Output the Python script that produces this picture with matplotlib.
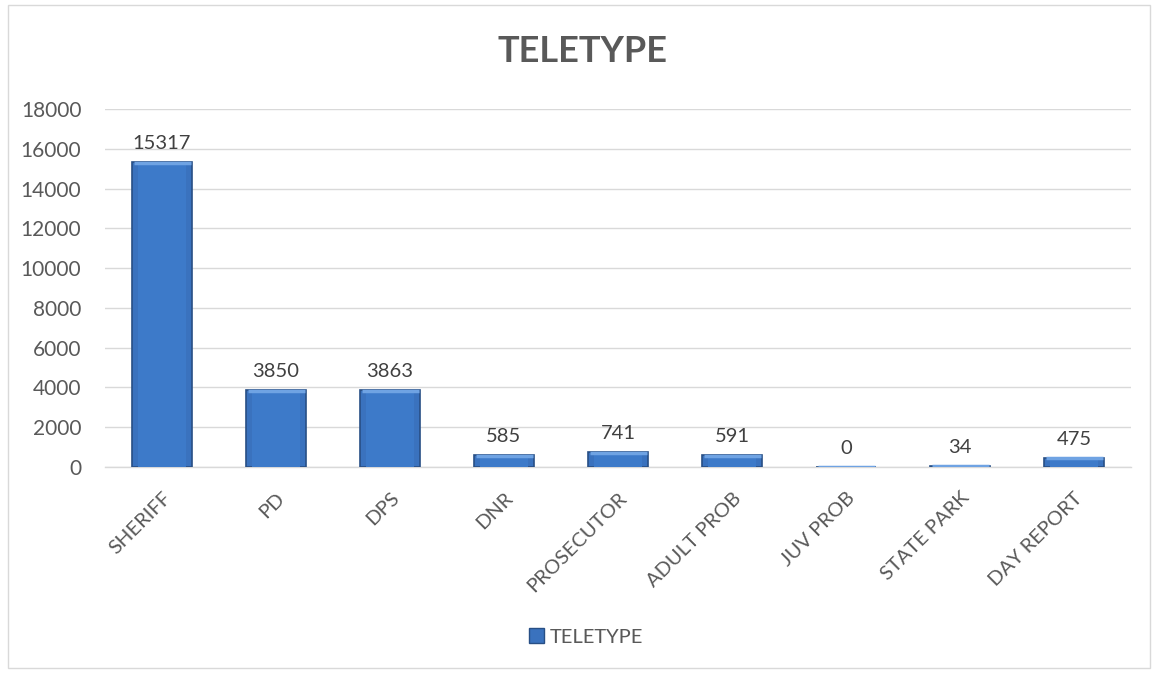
import matplotlib
matplotlib.use("Agg")
import matplotlib.pyplot as plt
from matplotlib.patches import Rectangle, Patch

categories = ["SHERIFF", "PD", "DPS", "DNR", "PROSECUTOR", "ADULT PROB", "JUV PROB", "STATE PARK", "DAY REPORT"]
values = [15317, 3850, 3863, 585, 741, 591, 0, 34, 475]
yticks = [0, 2000, 4000, 6000, 8000, 10000, 12000, 14000, 16000, 18000]
series_name = "TELETYPE"

plt.rcParams['font.family'] = ['Lato', 'DejaVu Sans']

fig = plt.figure(figsize=(11.53, 6.73), dpi=100)
ax = fig.add_axes([105/1153, 1-467/673, (1131-105)/1153, (467-109)/673])

x = list(range(len(categories)))
w = 0.52
ax.bar(x, values, width=w, color='#3A72BE', edgecolor='#284F85', linewidth=1.2, zorder=3)
# inner face for bevel look
ax.bar(x, values, width=w * 0.82, color='#3D7AC9', linewidth=0, zorder=4)
# top highlight
xs = [xi - w / 2 + 0.01 for xi in x]
xe = [xi + w / 2 - 0.01 for xi in x]
ax.hlines([t - 40 if t > 120 else t for t in values], xs, xe, colors='#6FA3E3', linewidth=2.5, zorder=5)

for xi, v in zip(x, values):
    ax.text(xi, v + 500, str(v), ha='center', va='bottom', fontsize=14.5, color='#404040', zorder=6)

ax.set_xlim(-0.5, len(categories) - 0.5)
ax.set_ylim(0, 18000)
ax.set_yticks(yticks)
ax.set_yticklabels([str(t) for t in yticks], fontsize=15, color='#595959')
ax.set_xticks(x)
ax.set_xticklabels(categories, rotation=45, ha='right', rotation_mode='anchor', fontsize=14.5, color='#595959')
ax.tick_params(axis='both', length=0)
ax.tick_params(axis='y', pad=17)
ax.tick_params(axis='x', pad=16)
ax.grid(axis='y', color='#D9D9D9', linewidth=1, zorder=0)
for s in ['top', 'right', 'left']:
    ax.spines[s].set_visible(False)
ax.spines['bottom'].set_color('#D9D9D9')
ax.spines['bottom'].set_linewidth(1)

fig.text(582/1153, 1-52/673, "TELETYPE", ha='center', va='center', fontsize=26, fontweight='bold', color='#595959')

handle = Patch(facecolor='#3A72BE', edgecolor='#284F85')
fig.legend([handle], [series_name], loc='center', bbox_to_anchor=(586/1153, 1-637/673), frameon=False,
           fontsize=14.5, handlelength=0.75, handleheight=0.75, handletextpad=0.3, labelcolor='#595959')

fig.patches.append(Rectangle((8/1153, 1-668/673), (1150-8)/1153, (668-5)/673, transform=fig.transFigure,
                             fill=False, edgecolor='#D9D9D9', linewidth=1))

fig.savefig("out.png", dpi=100)
